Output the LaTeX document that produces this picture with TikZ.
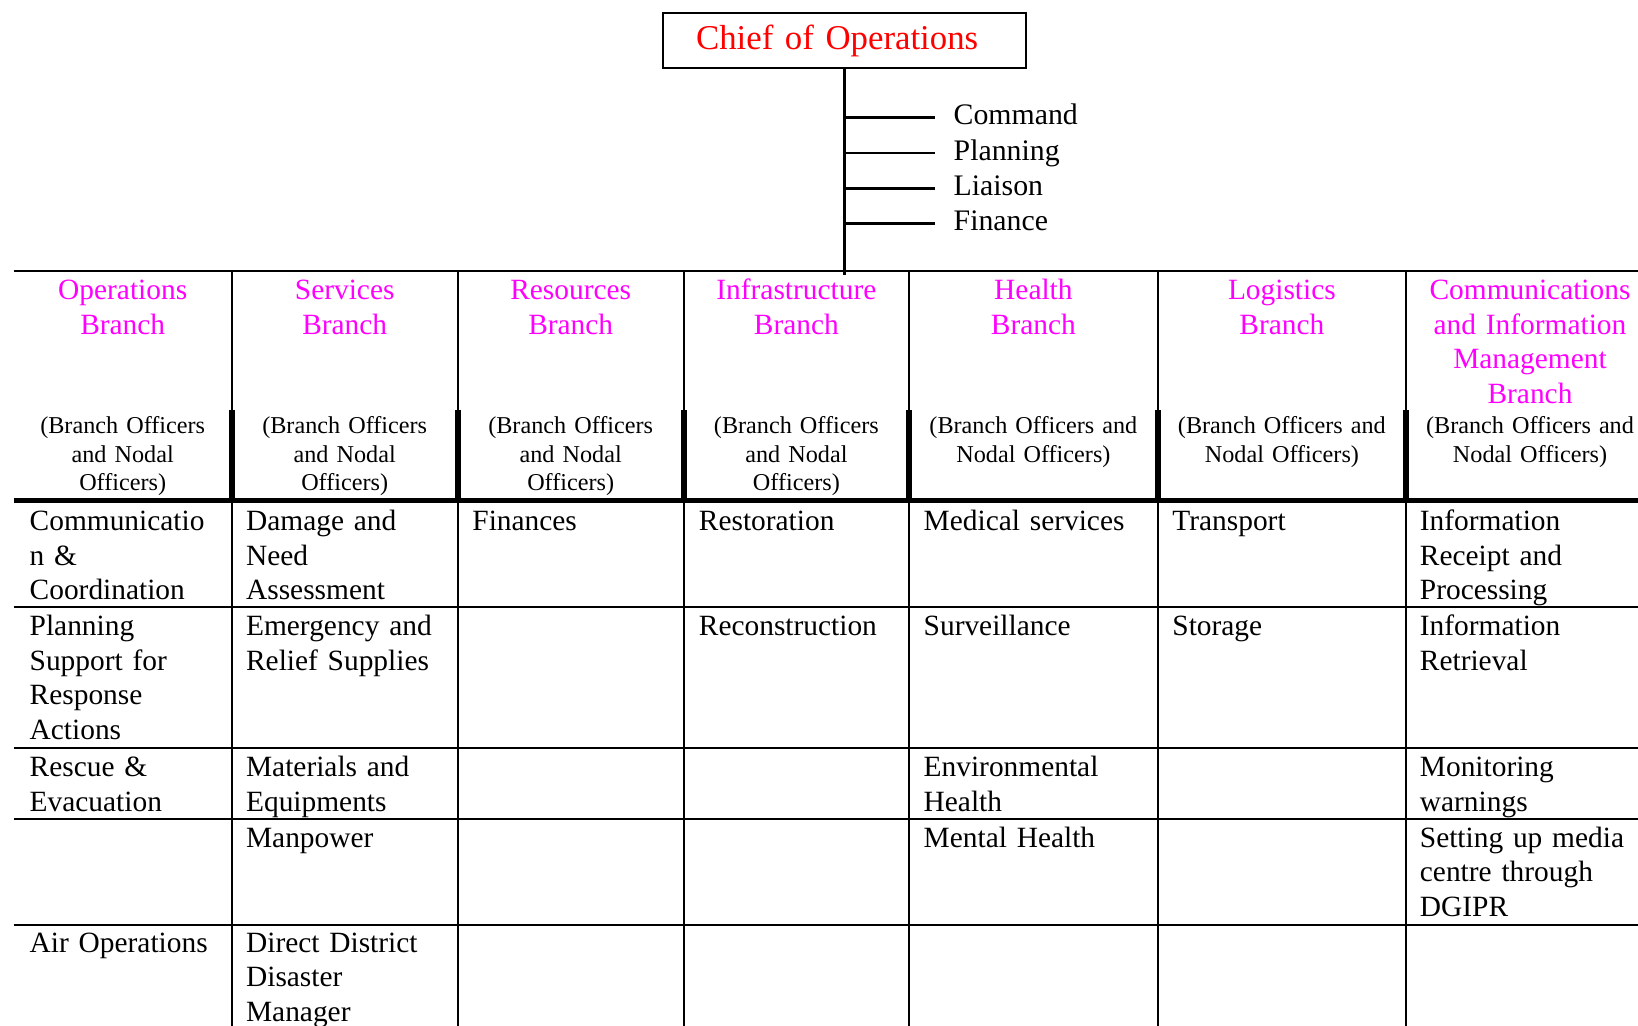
\documentclass[tikz,border=0pt]{standalone}
\usepackage{fontspec}
\setmainfont{Liberation Serif}
\usetikzlibrary{positioning}
\definecolor{branchpink}{RGB}{255,0,255}
\definecolor{chiefred}{RGB}{255,0,0}

\begin{document}
\begin{tikzpicture}[x=0.5pt,y=-0.5pt,
    rule/.style={line width=1pt},
    cell/.style={anchor=base west,inner sep=0pt,text width=110pt,align=left,font=\fontsize{14.7}{17.25}\selectfont},
    head/.style={anchor=base,inner sep=0pt,text width=112pt,align=center,text=branchpink,font=\fontsize{14.7}{17.25}\selectfont},
    sub/.style={anchor=base,inner sep=0pt,text width=120pt,align=center,font=\fontsize{12.1}{14.35}\selectfont},
    duty/.style={anchor=west,inner xsep=9.15pt,inner ysep=0pt,text height=10pt,text depth=3pt,font=\fontsize{14.9}{17.25}\selectfont}] %
    \clip (0,0) rectangle (1638,1025); %
    % chief and staff
    \node[draw,line width=1pt,minimum width=181.35pt,minimum height=27.2pt,inner xsep=16.35pt,text width=148.65pt,align=left,text=chiefred,font=\fontsize{17.4}{20}\selectfont] (chief) at (844.7,40.5) {Chief of Operations}; %
    \coordinate (hub) at (844.7,275); %
    \node[duty] (command) at (935,117.7) {Command}; %
    \node[duty,below=4.25pt of command.south west,anchor=north west] (planning) {Planning}; %
    \node[duty,below=4.25pt of planning.south west,anchor=north west] (liaison) {Liaison}; %
    \node[duty,below=4.25pt of liaison.south west,anchor=north west] (finance) {Finance}; %
    \draw[line width=1.3pt] (chief.south) -- (hub); %
    \draw[line width=1.25pt] (command.west -| chief.south) -- (command.west); %
    \draw[line width=1.25pt] (planning.west -| chief.south) -- (planning.west); %
    \draw[line width=1.25pt] (liaison.west -| chief.south) -- (liaison.west); %
    \draw[line width=1.25pt] (finance.west -| chief.south) -- (finance.west); %
    % grid
    \draw[line width=1.15pt] (13.6,271) -- (1660,271); %
    \draw[rule] (231.7,271) -- (231.7,410) (457.7,271) -- (457.7,410) (684,271) -- (684,410)
      (908.7,271) -- (908.7,410) (1158,271) -- (1158,410) (1405.7,271) -- (1405.7,410); %
    \draw[line width=3pt] (231.7,410) -- (231.7,500) (457.7,410) -- (457.7,500) (684,410) -- (684,500)
      (908.7,410) -- (908.7,500) (1158,410) -- (1158,500) (1405.7,410) -- (1405.7,500); %
    \draw[line width=2.9pt] (13.6,500.5) -- (1660,500.5); %
    \draw[rule] (231.7,500) -- (231.7,1030) (457.7,500) -- (457.7,1030) (684,500) -- (684,1030)
      (908.7,500) -- (908.7,1030) (1158,500) -- (1158,1030) (1405.7,500) -- (1405.7,1030); %
    \draw[rule] (13.6,607) -- (1660,607) (13.6,747.5) -- (1660,747.5)
      (13.6,819) -- (1660,819) (13.6,924.5) -- (1660,924.5); %
    % branch headings
    \node[head] (ops) at (122.7,299.5) {Operations\\Branch}; %
    \node[head] (serv) at (344.7,299.5) {Services\\Branch}; %
    \node[head] (res) at (570.7,299.5) {Resources\\Branch}; %
    \node[head] (infra) at (796.4,299.5) {Infrastructure\\Branch}; %
    \node[head] (health) at (1033.4,299.5) {Health\\Branch}; %
    \node[head] (logi) at (1281.9,299.5) {Logistics\\Branch}; %
    \node[head] (comm) at (1530,299.5) {Communications\\and Information\\Management\\Branch}; %
    \node[sub] (opsoff) at (122.7,433.3) {(Branch Officers\\and Nodal\\Officers)}; %
    \node[sub] (servoff) at (344.7,433.3) {(Branch Officers\\and Nodal\\Officers)}; %
    \node[sub] (resoff) at (570.7,433.3) {(Branch Officers\\and Nodal\\Officers)}; %
    \node[sub] (infraoff) at (796.4,433.3) {(Branch Officers\\and Nodal\\Officers)}; %
    \node[sub] (healthoff) at (1033.4,433.3) {(Branch Officers and\\Nodal Officers)}; %
    \node[sub] (logioff) at (1281.9,433.3) {(Branch Officers and\\Nodal Officers)}; %
    \node[sub] (commoff) at (1530,433.3) {(Branch Officers and\\Nodal Officers)}; %
    % tasks
    \node[cell] (coord) at (29.3,530.7) {Communicatio\\n \&\\Coordination}; %
    \node[cell] (damage) at (245.7,530.7) {Damage and\\Need\\Assessment}; %
    \node[cell] (finances) at (472,530.7) {Finances}; %
    \node[cell] (restore) at (698.5,530.7) {Restoration}; %
    \node[cell] (medical) at (923.3,530.7) {Medical services}; %
    \node[cell] (transport) at (1172,530.7) {Transport}; %
    \node[cell] (receipt) at (1419.5,530.7) {Information\\Receipt and\\Processing}; %
    \node[cell] (support) at (29.3,635.7) {Planning\\Support for\\Response\\Actions}; %
    \node[cell] (relief) at (245.7,635.7) {Emergency and\\Relief Supplies}; %
    \node[cell] (rebuild) at (698.5,635.7) {Reconstruction}; %
    \node[cell] (surveil) at (923.3,635.7) {Surveillance}; %
    \node[cell] (storage) at (1172,635.7) {Storage}; %
    \node[cell] (retrieval) at (1419.5,635.7) {Information\\Retrieval}; %
    \node[cell] (rescue) at (29.3,776.7) {Rescue \&\\Evacuation}; %
    \node[cell] (materials) at (245.7,776.7) {Materials and\\Equipments}; %
    \node[cell] (envhealth) at (923.3,776.7) {Environmental\\Health}; %
    \node[cell] (warnings) at (1419.5,776.7) {Monitoring\\warnings}; %
    \node[cell] (manpower) at (245.7,847) {Manpower}; %
    \node[cell] (mental) at (923.3,847) {Mental Health}; %
    \node[cell] (media) at (1419.5,847) {Setting up media\\centre through\\DGIPR}; %
    \node[cell] (airops) at (29.3,952.3) {Air Operations}; %
    \node[cell] (dddm) at (245.7,952.3) {Direct District\\Disaster\\Manager}; %
\end{tikzpicture}
\end{document}
